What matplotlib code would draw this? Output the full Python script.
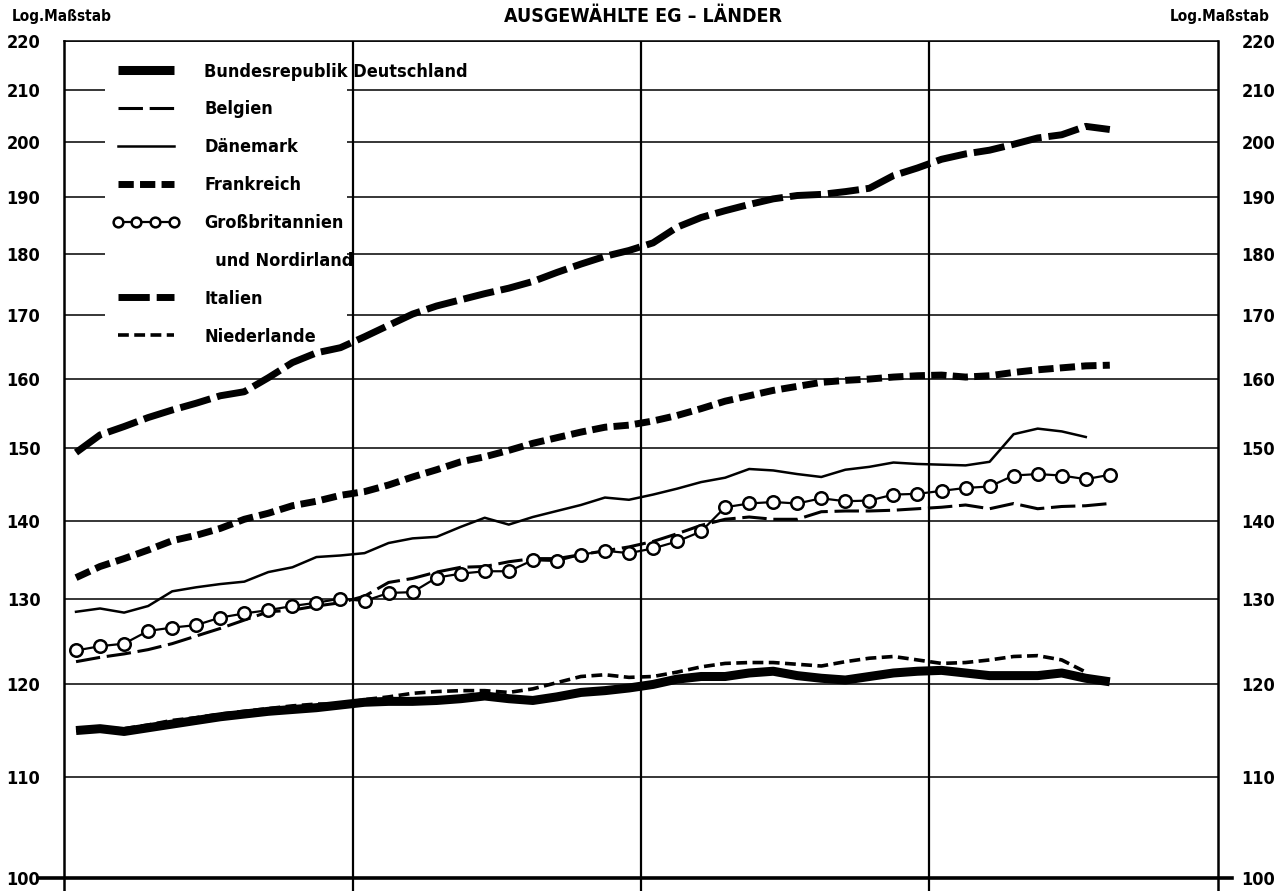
import numpy as np
import matplotlib.pyplot as plt
from matplotlib import font_manager as fm
from matplotlib.patches import Rectangle
from matplotlib.ticker import FixedLocator, FixedFormatter, NullLocator

# schmale Schrift suchen, sonst Roboto
schmal = [f for f in fm.fontManager.ttflist
          if 'condensed' in str(f.stretch).lower() or 'narrow' in f.name.lower()
          or 'condensed' in f.name.lower() or 'narrow' in f.fname.lower()
          or 'condensed' in f.fname.lower()]
schmal.sort(key=lambda f: (0 if 'bold' in f.fname.lower() else 1, f.fname))
if schmal:
    FAM = [schmal[0].name, 'DejaVu Sans']
    STRETCH = schmal[0].stretch
else:
    FAM = ['Roboto', 'DejaVu Sans']
    STRETCH = 'normal'
plt.rcParams['font.family'] = FAM
plt.rcParams['font.stretch'] = STRETCH
plt.rcParams['font.weight'] = 'bold'

# Monatswerte (4 Jahre, Monatsmitte)
monate = np.arange(44) + 0.5

brd = [114.9, 115.1, 114.8, 115.2, 115.6, 116.0, 116.4, 116.7, 117.0, 117.2,
       117.4, 117.7, 118.0, 118.1, 118.1, 118.2, 118.4, 118.7, 118.4, 118.2,
       118.6, 119.1, 119.3, 119.6, 120.0, 120.6, 120.9, 120.9, 121.3, 121.5,
       121.0, 120.7, 120.5, 120.9, 121.3, 121.5, 121.6, 121.3, 121.0, 121.0,
       121.0, 121.3, 120.7, 120.3]
belgien = [122.6, 123.1, 123.5, 124.0, 124.7, 125.6, 126.5, 127.5, 128.5, 128.7,
           129.2, 129.6, 130.4, 132.1, 132.6, 133.4, 134.0, 134.1, 134.7, 135.1,
           135.1, 135.6, 136.1, 136.6, 137.3, 138.3, 139.4, 140.2, 140.5, 140.2,
           140.2, 141.2, 141.3, 141.3, 141.4, 141.6, 141.8, 142.1, 141.6, 142.3,
           141.6, 141.9, 142.0, 142.3]
daenemark = [128.5, 128.9, 128.4, 129.2, 131.0, 131.5, 131.9, 132.2, 133.4, 134.0,
             135.3, 135.5, 135.8, 137.1, 137.7, 137.9, 139.2, 140.4, 139.5, 140.5,
             141.3, 142.1, 143.1, 142.8, 143.5, 144.3, 145.2, 145.8, 147.0, 146.8,
             146.3, 145.9, 146.9, 147.3, 147.9, 147.7, 147.6, 147.5, 148.0, 151.9,
             152.7, 152.3, 151.5]
frankreich = [132.7, 134.1, 135.1, 136.2, 137.4, 138.1, 139.0, 140.2, 141.0, 142.0,
              142.6, 143.4, 143.9, 144.8, 145.9, 146.9, 148.0, 148.7, 149.6, 150.6,
              151.4, 152.2, 152.9, 153.2, 153.8, 154.6, 155.6, 156.7, 157.5, 158.3,
              158.9, 159.5, 159.8, 160.0, 160.3, 160.5, 160.6, 160.3, 160.5, 161.0,
              161.4, 161.7, 162.0, 162.1]
grossbritannien = [123.9, 124.4, 124.7, 126.2, 126.6, 126.9, 127.8, 128.3, 128.7, 129.2,
                   129.6, 130.1, 129.8, 130.8, 130.9, 132.7, 133.2, 133.5, 133.5, 134.9,
                   134.8, 135.6, 136.1, 135.8, 136.4, 137.3, 138.6, 141.8, 142.3, 142.5,
                   142.3, 143.0, 142.6, 142.7, 143.5, 143.6, 144.0, 144.4, 144.6, 146.1,
                   146.3, 146.1, 145.6, 146.2]
italien = [149.3, 151.8, 153.0, 154.3, 155.4, 156.4, 157.5, 158.1, 160.2, 162.5,
           164.0, 164.8, 166.5, 168.3, 170.1, 171.4, 172.4, 173.4, 174.3, 175.4,
           176.9, 178.3, 179.6, 180.6, 181.9, 184.6, 186.3, 187.5, 188.6, 189.6,
           190.2, 190.4, 190.9, 191.5, 193.8, 195.2, 196.8, 197.8, 198.5, 199.6,
           200.8, 201.4, 203.0, 202.4]
niederlande = [114.9, 115.1, 115.1, 115.5, 116.0, 116.3, 116.7, 117.0, 117.3, 117.6,
               117.8, 117.8, 118.3, 118.6, 119.0, 119.2, 119.3, 119.3, 119.1, 119.5,
               120.2, 120.9, 121.1, 120.8, 120.9, 121.4, 122.0, 122.4, 122.5, 122.5,
               122.3, 122.1, 122.6, 123.0, 123.2, 122.8, 122.4, 122.5, 122.8, 123.2,
               123.3, 122.8, 121.4]

y_ticks = [100, 110, 120, 130, 140, 150, 160, 170, 180, 190, 200, 210, 220]

fig = plt.figure(figsize=(12.87, 8.91), dpi=100)
ax = fig.add_axes([64 / 1287, 0, 1154 / 1287, 850 / 891])

ax.plot(monate, brd, color='black', lw=6.5, solid_capstyle='butt',
        label='Bundesrepublik Deutschland', zorder=5)
ax.plot(monate, belgien, color='black', lw=2.2, dashes=(8, 2.2),
        label='Belgien', zorder=4)
ax.plot(monate[:len(daenemark)], daenemark, color='black', lw=1.8,
        label='Dänemark', zorder=4)
ax.plot(monate, frankreich, color='black', lw=5, dashes=(2.2, 0.9),
        label='Frankreich', zorder=4)
ax.plot(monate, grossbritannien, color='black', lw=1.6, marker='o', ms=9,
        mfc='white', mec='black', mew=1.8,
        label='Großbritannien', zorder=6)
ax.plot([], [], color='none', label='  und Nordirland')
ax.plot(monate, italien, color='black', lw=5, dashes=(4.5, 1.0),
        label='Italien', zorder=4)
ax.plot(monate[:len(niederlande)], niederlande, color='black', lw=2.6,
        dashes=(3, 1.5), label='Niederlande', zorder=6)

ax.set_yscale('log')
ax.set_ylim(98.78, 220)
ax.set_xlim(0, 48)
ax.yaxis.set_major_locator(FixedLocator(y_ticks))
ax.yaxis.set_major_formatter(FixedFormatter([str(v) for v in y_ticks]))
ax.yaxis.set_minor_locator(NullLocator())
ax.set_xticks([12, 24, 36])
ax.set_xticklabels([])
ax.tick_params(axis='x', length=0)
ax.tick_params(axis='y', length=0, labelsize=13, pad=17,
               labelleft=True, labelright=True)

ax.grid(axis='y', color='black', lw=1.1)
ax.grid(axis='x', color='black', lw=1.6)
ax.set_axisbelow(True)
for s in ['left', 'right']:
    ax.spines[s].set_linewidth(1.8)
ax.spines['top'].set_linewidth(1.1)
ax.spines['bottom'].set_visible(False)
ax.axhline(100, xmin=-0.0225, xmax=1.012, color='black', lw=2.6,
           clip_on=False, zorder=3)

# weisser Hintergrund der Legende
ax.add_patch(Rectangle((0.0355, 0.636), 0.21, 0.353, transform=ax.transAxes,
                       facecolor='white', edgecolor='none', zorder=2))

leg = ax.legend(loc='upper left', bbox_to_anchor=(0.037, 0.981), frameon=False,
                fontsize=13, handlelength=3.7, handletextpad=1.4,
                labelspacing=1.1, numpoints=4, borderpad=0.3,
                borderaxespad=0)
leg.set_zorder(10)
for h in leg.legend_handles:
    if h.get_marker() == 'o':
        h.set_markersize(7)

fig.text(12 / 1287, 1 - 16 / 891, 'Log.Maßstab', fontsize=11,
         ha='left', va='center')
fig.text(1270 / 1287, 1 - 16 / 891, 'Log.Maßstab', fontsize=11,
         ha='right', va='center')
fig.text(643 / 1287, 1 - 16 / 891, 'AUSGEWÄHLTE EG – LÄNDER', fontsize=14,
         ha='center', va='center')

fig.savefig('out.png', dpi=100)
